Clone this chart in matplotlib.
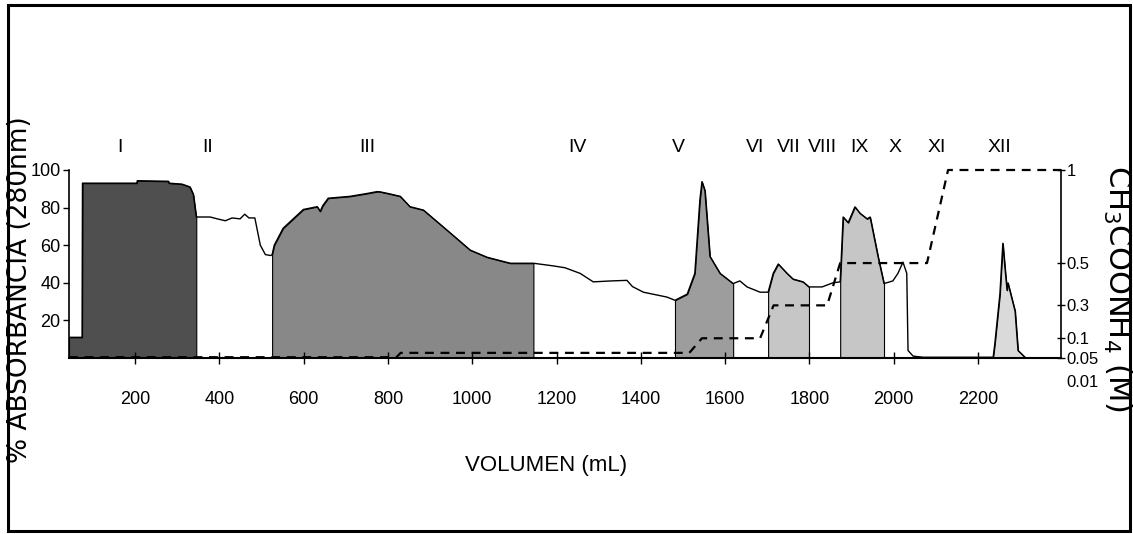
import numpy as np
import matplotlib.pyplot as plt
from matplotlib.patches import Rectangle

# Absorbancia (280 nm) frente al volumen eluido
vol = [43, 74, 75, 204, 205, 279, 280, 311, 330, 338, 345, 378, 395, 414, 430, 449,
       460, 470, 484, 497, 509, 522, 525, 530, 551, 575, 599, 632, 639, 645, 658, 710,
       750, 774, 781, 800, 829, 852, 884, 940, 995, 1035, 1090, 1145, 1192, 1220, 1256,
       1287, 1330, 1367, 1380, 1406, 1462, 1481, 1510, 1528, 1540, 1545, 1552, 1564,
       1588, 1619, 1635, 1652, 1683, 1702, 1714, 1726, 1747, 1761, 1785, 1799, 1830,
       1856, 1873, 1880, 1892, 1908, 1920, 1937, 1944, 1963, 1977, 1998, 2010, 2022,
       2031, 2034, 2046, 2070, 2236, 2240, 2252, 2259, 2264, 2269, 2271, 2288, 2295, 2312]
absorb = [11, 11, 93, 93, 94.3, 94, 93, 92.5, 91, 87, 75, 75, 74, 73, 74.5, 74,
          76.5, 74.5, 74.5, 60, 55, 54.5, 55, 60, 69, 74, 79, 80.5, 78, 81, 85, 86,
          87.5, 88.5, 88.4, 87.5, 86, 80.5, 78.7, 68, 57.4, 53.6, 50.4, 50.4, 49, 48, 45,
          40.5, 41, 41.3, 38, 35, 32.4, 30.7, 34, 45, 84, 93.8, 89, 54,
          45, 39.6, 41, 37.8, 35, 35, 45, 50, 45, 42, 40.5, 37.8, 37.8,
          40, 40.5, 75, 72, 80.4, 77, 74, 75, 53.8, 39.6, 41, 45, 51,
          45, 4, 1, 0.4, 0.4, 7.7, 34, 61, 48, 36, 40, 25, 4, 0.3]

# Fracciones recogidas
roman = ['I', 'II', 'III', 'IV', 'V', 'VI', 'VII', 'VIII', 'IX', 'X', 'XI', 'XII']
roman_vol = [164, 371, 750, 1249, 1488, 1671, 1752, 1830, 1918, 2003, 2103, 2252]

shade_from = [43, 525, 1481, 1702, 1873, 2236]
shade_to = [345, 1145, 1619, 1799, 1977, 2312]
shade_color = ['#4f4f4f', '#888888', '#9d9d9d', '#c6c6c6', '#c6c6c6', '#dadada']

# Gradiente de acetato de amonio (M)
conc_vol = [43, 820, 830, 1515, 1545, 1683, 1715, 1842, 1873, 2079, 2129, 2397]
conc_M = [0.052, 0.052, 0.063, 0.063, 0.1, 0.1, 0.3, 0.3, 0.5, 0.5, 1.0, 1.0]

# escala derecha no lineal
conc_ticks = [0.01, 0.05, 0.1, 0.3, 0.5, 1.0]
conc_ticks_pos = [-13, 0, 10.5, 28, 50.5, 100]
conc_labels = ['0.01', '0.05', '0.1', '0.3', '0.5', '1']

x_ticks = [200, 400, 600, 800, 1000, 1200, 1400, 1600, 1800, 2000, 2200]
y_ticks = [20, 40, 60, 80, 100]

narrow = ['Liberation Sans', 'DejaVu Sans']
fs = 13

vol = np.array(vol, dtype=float)
absorb = np.array(absorb, dtype=float)


def conc_to_pos(c):
    return np.interp(c, conc_ticks, conc_ticks_pos)


fig = plt.figure(figsize=(11.33, 5.34), dpi=100)
ax = fig.add_axes([69 / 1133, 176 / 534, (1061 - 69) / 1133, 188 / 534])
ax.set_xlim(43, 2397)
ax.set_ylim(0, 100)

for a, b, c in zip(shade_from, shade_to, shade_color):
    m = (vol > a) & (vol < b)
    xs = np.r_[a, vol[m], b]
    ys = np.r_[np.interp(a, vol, absorb), absorb[m], np.interp(b, vol, absorb)]
    ax.fill_between(xs, 0, ys, facecolor=c, edgecolor='black', lw=0.8)

ax.plot(vol, absorb, color='black', lw=1)
ax.plot(conc_vol, conc_to_pos(conc_M), color='black', lw=1.6, ls=(0, (4, 3)),
        clip_on=False)

for s, xv in zip(roman, roman_vol):
    ax.text(xv, 112, s, ha='center', va='center', fontsize=fs + 1, family=narrow,
            clip_on=False)

ax.set_xticks(x_ticks)
ax.set_xticklabels([str(v) for v in x_ticks], family=narrow, fontsize=fs)
ax.set_yticks(y_ticks)
ax.set_yticklabels([str(v) for v in y_ticks], family=narrow, fontsize=fs)
ax.tick_params(axis='x', direction='inout', length=8, pad=20, width=1)
ax.tick_params(axis='y', direction='out', length=4, pad=2, width=1)
for side in ['top', 'right']:
    ax.spines[side].set_visible(False)
ax.spines['bottom'].set_linewidth(1.5)
ax.spines['left'].set_linewidth(1.2)

ax2 = ax.twinx()
ax2.set_ylim(0, 100)
ax2.set_yticks(conc_ticks_pos[1:])
ax2.set_yticklabels(conc_labels[1:], family=narrow, fontsize=fs - 1)
ax2.tick_params(axis='y', direction='inout', length=6, pad=1, width=1)
for side in ['top', 'left', 'bottom']:
    ax2.spines[side].set_visible(False)
ax2.spines['right'].set_linewidth(1.2)
ax2.text(2410, conc_ticks_pos[0], conc_labels[0], ha='left', va='center',
         fontsize=fs - 1, family=narrow, clip_on=False)

fig.text(20 / 1133, 1 - 290 / 534, '% ABSORBANCIA (280nm)', rotation=90,
         ha='center', va='center', fontsize=19)
fig.text(1117 / 1133, 1 - 288 / 534, r'CH$_3$COONH$_4$ (M)', rotation=-90,
         ha='center', va='center', fontsize=22)
fig.text(546 / 1133, 1 - 465 / 534, 'VOLUMEN (mL)', ha='center', va='center',
         fontsize=16, family=narrow)

fig.patches.append(Rectangle((8 / 1133, 3 / 534), (1130 - 8) / 1133, (529 - 3) / 534,
                             transform=fig.transFigure, fill=False, lw=2.2,
                             edgecolor='black'))

fig.savefig('out.png', dpi=100)
